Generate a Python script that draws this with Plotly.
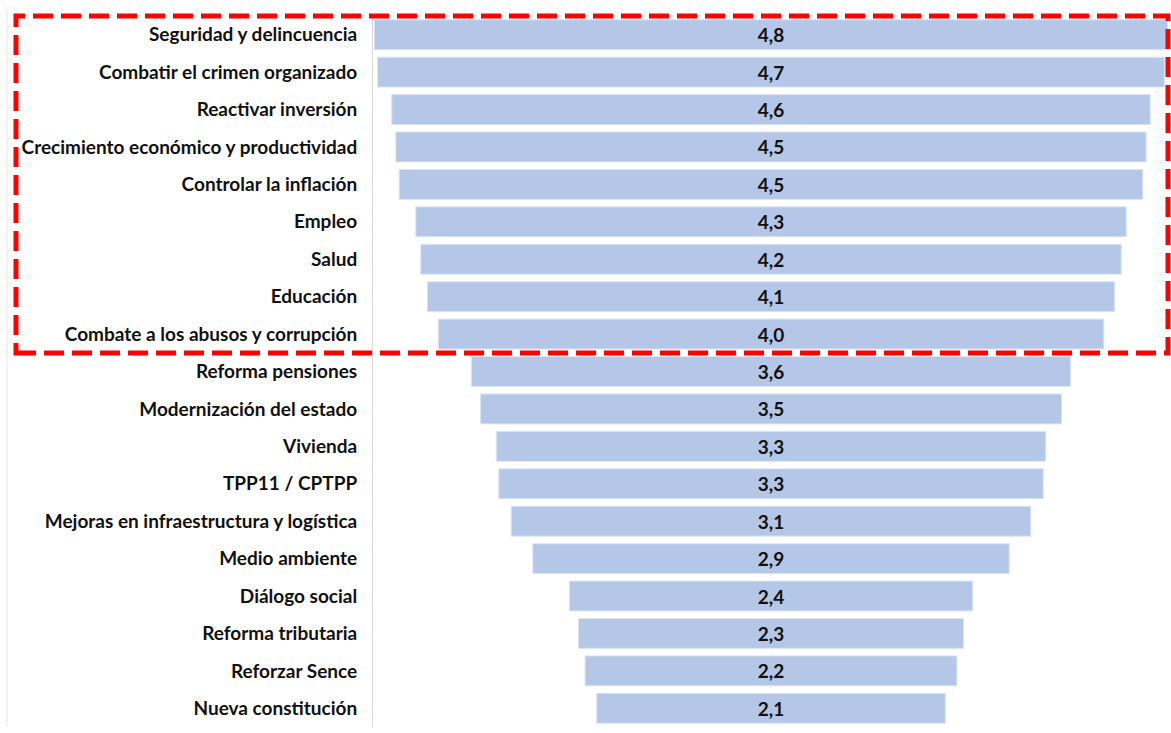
import plotly.graph_objects as go

categories = [
    "Seguridad y delincuencia",
    "Combatir el crimen organizado",
    "Reactivar inversión",
    "Crecimiento económico y productividad",
    "Controlar la inflación",
    "Empleo",
    "Salud",
    "Educación",
    "Combate a los abusos y corrupción",
    "Reforma pensiones",
    "Modernización del estado",
    "Vivienda",
    "TPP11 / CPTPP",
    "Mejoras en infraestructura y logística",
    "Medio ambiente",
    "Diálogo social",
    "Reforma tributaria",
    "Reforzar Sence",
    "Nueva constitución",
]
values = [4.78, 4.74, 4.57, 4.52, 4.48, 4.28, 4.22, 4.14, 4.01,
          3.61, 3.50, 3.31, 3.28, 3.13, 2.87, 2.43, 2.32, 2.24, 2.10]

W, H = 1171, 733
L, R, T, B = 373, 2, 16, 6
pw, ph = W - L - R, H - T - B

def px(x):
    return (x - L) / pw

def py(y):
    return 1 - (y - T) / ph

fig = go.Figure(go.Funnel(
    y=categories,
    x=values,
    texttemplate="<b>%{x:.1f}</b>",
    textposition="inside",
    insidetextanchor="middle",
    textfont=dict(family="Lato", size=19, color="#111111"),
    insidetextfont=dict(family="Lato", size=19, color="#111111"),
    marker=dict(color="#B4C7E7", line=dict(color="#DCE5F4", width=1)),
    connector=dict(visible=False),
))

fig.update_layout(
    width=W, height=H,
    margin=dict(l=L, r=R, t=T, b=B),
    paper_bgcolor="white", plot_bgcolor="white",
    separators=",.",
    showlegend=False,
    bargap=0.07,
    uniformtext=dict(minsize=19, mode="show"),
    xaxis=dict(visible=False, range=[-pw / 166 / 2, pw / 166 / 2], fixedrange=True),
    yaxis=dict(
        showline=True, linecolor="#D9D9D9", linewidth=1,
        showgrid=False, ticks="", ticklabelstandoff=11,
        tickfont=dict(family="Lato", size=19, color="#111111", weight="bold"),
        autorange="reversed",
    ),
    shapes=[
        dict(type="rect", xref="paper", yref="paper",
             x0=px(16), x1=px(1168), y0=py(353), y1=py(16),
             line=dict(color="#FF0000", width=5, dash="20px,8px"),
             fillcolor="rgba(0,0,0,0)", layer="above"),
        dict(type="line", xref="paper", yref="paper",
             x0=px(7), x1=px(7), y0=py(727), y1=py(10),
             line=dict(color="#E6E6E6", width=1)),
    ],
)

fig.write_html("out.html", config={"displayModeBar": False},
               post_script="document.body.style.margin='0';")
